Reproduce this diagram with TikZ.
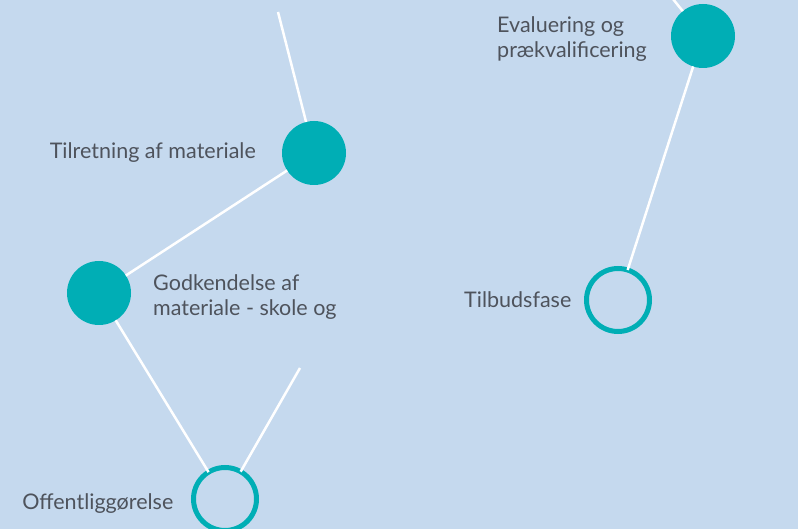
\documentclass[tikz,border=0pt]{standalone}
\usepackage{fontspec}
\setmainfont{Lato}
\usetikzlibrary{positioning}
\definecolor{bgblue}{HTML}{C5D9EE}
\definecolor{phaseteal}{HTML}{00AEB5}
\definecolor{textgrey}{HTML}{4E535C}

\begin{document}
\begin{tikzpicture}[x=1pt,y=-1pt,
  done/.style={circle,fill=phaseteal,minimum size=64pt,inner sep=0pt,outer sep=0pt},
  todo/.style={circle,draw=phaseteal,line width=5pt,minimum size=63pt,inner sep=0pt,outer sep=0pt},
  txt/.style={text=textgrey,font=\fontsize{21.5}{25.5}\selectfont,inner sep=0pt,align=left},
  link/.style={white,line width=2.5pt}]
  \useasboundingbox (0,0) rectangle (798,529);
  \clip (0,0) rectangle (798,529);
  \fill[bgblue] (0,0) rectangle (798,529);
  % phases
  \node[done] (tilret) at (314,153) {};
  \node[done] (godk) at (99,293) {};
  \node[todo] (offent) at (225,499) {};
  \node[done] (eval) at (703,36) {};
  \node[todo] (tilbud) at (618,300) {};
  % loose ends
  \coordinate (top1) at (278,12);
  \coordinate (top2) at (664,-12);
  \coordinate (tail) at (300,368);
  % labels
  \node[txt,left=26pt of tilret] (tilretlbl) {Tilretning af materiale};
  \node[txt,right=22pt of godk,yshift=-4pt] (godklbl) {Godkendelse af\\materiale - skole og};
  \node[txt,left=20pt of offent,yshift=-5pt] (offentlbl) {Offentliggørelse};
  \node[txt,left=24pt of eval,yshift=-3pt] (evallbl) {Evaluering og\\prækvalificering};
  \node[txt,left=15pt of tilbud] (tilbudlbl) {Tilbudsfase};
  % connectors
  \draw[link] (top1) -- (tilret);
  \draw[link] (tilret) -- (godk);
  \draw[link] (godk) -- (offent);
  \draw[link] (tail) -- (offent);
  \draw[link] (top2) -- (eval);
  \draw[link] (eval) -- (tilbud);
\end{tikzpicture}
\end{document}
